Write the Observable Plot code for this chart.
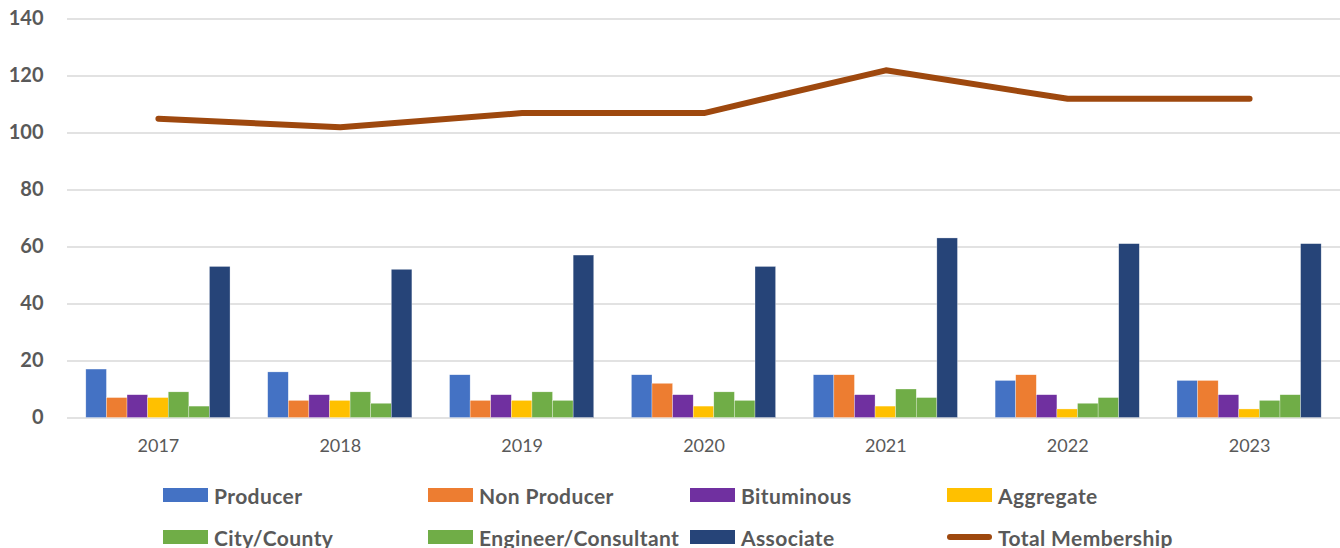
<!DOCTYPE html>
<html>
<head>
<meta charset="utf-8">
<script src="https://cdn.jsdelivr.net/npm/d3@7"></script>
<script src="https://cdn.jsdelivr.net/npm/@observablehq/plot@0.6"></script>
<style>
  html, body { margin: 0; padding: 0; background: #fff; }
  #wrap { position: relative; width: 1340px; height: 548px; overflow: hidden; font-family: Lato, "Open Sans", sans-serif; }
  #legend { position: absolute; left: 0; top: 0; width: 1340px; height: 548px; pointer-events: none; }
  .item { position: absolute; display: flex; align-items: center; height: 24px; font-weight: bold; font-size: 21px; letter-spacing: 0.4px; color: #595959; white-space: nowrap; }
  .sw { width: 45px; height: 14px; margin-right: 6px; }
  .ln { width: 45px; height: 6px; border-radius: 3px; margin-right: 6px; }
</style>
</head>
<body>
<div id="wrap"><div id="chart"></div><div id="legend"></div></div>
<script>
const years = ["2017", "2018", "2019", "2020", "2021", "2022", "2023"];
const categories = ["Producer", "Non Producer", "Bituminous", "Aggregate", "City/County", "Engineer/Consultant", "Associate"];
const producer    = [17, 16, 15, 15, 15, 13, 13];
const nonProducer = [7, 6, 6, 12, 15, 15, 13];
const bituminous  = [8, 8, 8, 8, 8, 8, 8];
const aggregate   = [7, 6, 6, 4, 4, 3, 3];
const cityCounty  = [9, 9, 9, 9, 10, 5, 6];
const engineer    = [4, 5, 6, 6, 7, 7, 8];
const associate   = [53, 52, 57, 53, 63, 61, 61];
const totalMembership = [105, 102, 107, 107, 122, 112, 112];
const yTicks = [0, 20, 40, 60, 80, 100, 120, 140];
const lineLabel = "Total Membership";

const seriesValues = [producer, nonProducer, bituminous, aggregate, cityCounty, engineer, associate];
const colors = ["#4472C4", "#ED7D31", "#7030A0", "#FFC000", "#70AD47", "#70AD47", "#264478"];
const lineColor = "#9E480E";

const W = 1340, H = 460, mL = 67, mR = 0, mT = 18.5, mB = 42.5;
const padInner = 0.207, padOuter = 0.1035;
const step = (W - mL - mR) / (years.length - padInner + 2 * padOuter);
const bandW = step * (1 - padInner);
const barW = bandW / categories.length;

const marks = [
  Plot.gridY(yTicks, {stroke: "#d9d9d9", strokeOpacity: 1, strokeWidth: 1.5}),
];
categories.forEach((c, i) => {
  const rows = years.map((y, j) => ({year: y, value: seriesValues[i][j], category: c}));
  marks.push(Plot.barY(rows, {
    x: "year", y: "value", fill: colors[i],
    insetLeft: i * barW, insetRight: (categories.length - 1 - i) * barW,
    stroke: "#ffffff", strokeWidth: 0.5, strokeOpacity: 0.6
  }));
});
const totals = years.map((y, j) => ({year: y, total: totalMembership[j]}));
marks.push(Plot.lineY(totals, {x: "year", y: "total", stroke: lineColor, strokeWidth: 6, strokeLinecap: "round", strokeLinejoin: "round"}));
marks.push(Plot.axisY(yTicks, {tickSize: 0, tickPadding: 24, fontSize: 20, fontWeight: "bold", fill: "#595959", label: null}));
marks.push(Plot.axisX({tickSize: 0, tickPadding: 21, fontSize: 18, fill: "#595959", label: null}));

const chart = Plot.plot({
  width: W, height: H,
  marginLeft: mL, marginRight: mR, marginTop: mT, marginBottom: mB,
  style: {fontFamily: "Lato, 'Open Sans', sans-serif", background: "#fff", overflow: "visible"},
  x: {type: "band", domain: years, paddingInner: padInner, paddingOuter: padOuter, round: false, axis: null},
  y: {domain: [0, 140], axis: null},
  marks
});
document.getElementById("chart").appendChild(chart);

// legend
const legend = document.getElementById("legend");
const colX = [163, 428, 690, 947];
const rowY = [495, 537];
const items = categories.map((c, i) => ({label: c, color: colors[i], type: "rect"}))
  .concat([{label: lineLabel, color: lineColor, type: "line"}]);
items.forEach((it, k) => {
  const r = Math.floor(k / 4), col = k % 4;
  const div = document.createElement("div");
  div.className = "item";
  div.style.left = colX[col] + "px";
  div.style.top = (rowY[r] - 12) + "px";
  const sw = document.createElement("span");
  sw.className = it.type === "line" ? "ln" : "sw";
  sw.style.background = it.color;
  const tx = document.createElement("span");
  tx.textContent = it.label;
  div.appendChild(sw); div.appendChild(tx);
  legend.appendChild(div);
});
</script>
</body>
</html>
